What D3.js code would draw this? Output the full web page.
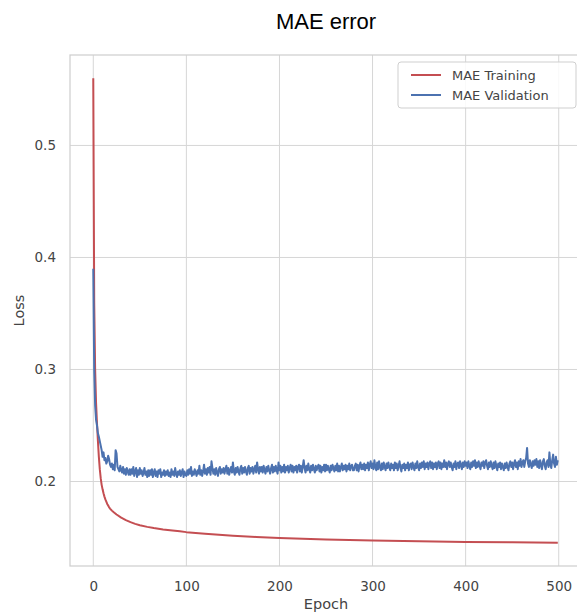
<!DOCTYPE html>
<html>
<head>
<meta charset="utf-8">
<script src="https://cdn.jsdelivr.net/npm/d3@7"></script>
<style>
  html, body { margin: 0; padding: 0; background: #fff; }
  svg { display: block; }
</style>
</head>
<body>
<svg id="chart" width="577" height="614"></svg>
<script>
// ---------------- data ----------------
const title = "MAE error";
const xLabel = "Epoch";
const yLabel = "Loss";
const seriesNames = ["MAE Training", "MAE Validation"];
const xTicks = [0, 100, 200, 300, 400, 500];
const yTicks = [0.2, 0.3, 0.4, 0.5];

// training loss (smooth curve) read at selected epochs
const trainEpochs = [0, 1, 2, 3, 4, 5, 6, 7, 8, 9, 10, 11, 12, 13, 14, 15, 16, 17, 18, 20, 22, 25, 30, 35, 40, 45, 50, 58, 65, 75, 85, 93, 100, 120, 150, 175, 200, 250, 300, 350, 400, 450, 499];
const trainLoss = [0.560, 0.360, 0.300, 0.270, 0.252, 0.236, 0.222, 0.211, 0.203, 0.197, 0.193, 0.1895, 0.1865, 0.184, 0.182, 0.180, 0.1785, 0.177, 0.1758, 0.1740, 0.1725, 0.1705, 0.1677, 0.1655, 0.1637, 0.1622, 0.161, 0.1595, 0.1584, 0.1572, 0.1562, 0.1555, 0.1548, 0.1533, 0.1516, 0.1505, 0.1496, 0.1483, 0.1473, 0.1466, 0.146, 0.1457, 0.1453];

// validation loss, one value per epoch 0..499
const valLoss = [
0.390,0.300,0.268,0.255,0.250,0.243,0.240,0.236,0.232,0.228,0.222,0.226,0.219,0.221,0.216,0.218,0.223,0.220,0.215,0.213,
0.216,0.211,0.215,0.210,0.228,0.225,0.213,0.211,0.209,0.214,0.210,0.208,0.213,0.207,0.211,0.206,0.212,0.209,0.206,0.211,
0.206,0.211,0.207,0.213,0.205,0.209,0.212,0.204,0.210,0.206,0.212,0.207,0.210,0.205,0.208,0.212,0.206,0.209,0.204,0.210,
0.205,0.210,0.206,0.211,0.204,0.208,0.211,0.205,0.209,0.204,0.210,0.207,0.211,0.204,0.208,0.206,0.210,0.205,0.209,0.206,
0.210,0.205,0.208,0.204,0.211,0.206,0.209,0.205,0.212,0.207,0.204,0.209,0.206,0.210,0.205,0.208,0.211,0.204,0.209,0.206,
0.205,0.210,0.206,0.211,0.207,0.213,0.205,0.209,0.206,0.211,0.208,0.205,0.210,0.207,0.214,0.206,0.210,0.205,0.209,0.215,
0.207,0.211,0.206,0.212,0.208,0.213,0.206,0.218,0.212,0.207,0.211,0.206,0.212,0.208,0.205,0.211,0.213,0.207,0.211,0.208,
0.212,0.207,0.211,0.214,0.207,0.212,0.206,0.210,0.213,0.208,0.217,0.209,0.206,0.212,0.208,0.213,0.209,0.206,0.212,0.214,
0.207,0.212,0.208,0.213,0.209,0.206,0.212,0.214,0.207,0.212,0.209,0.213,0.207,0.211,0.214,0.208,0.217,0.211,0.207,0.213,
0.209,0.213,0.208,0.214,0.210,0.207,0.213,0.209,0.214,0.210,0.207,0.212,0.215,0.208,0.213,0.209,0.214,0.210,0.207,0.217,
0.210,0.214,0.208,0.213,0.209,0.215,0.208,0.213,0.210,0.214,0.208,0.212,0.215,0.209,0.214,0.208,0.213,0.210,0.214,0.208,
0.213,0.215,0.209,0.214,0.208,0.213,0.219,0.212,0.208,0.214,0.210,0.216,0.211,0.208,0.214,0.210,0.215,0.211,0.208,0.214,
0.210,0.213,0.215,0.209,0.214,0.208,0.213,0.210,0.215,0.209,0.215,0.210,0.214,0.211,0.208,0.214,0.210,0.215,0.212,0.209,
0.214,0.210,0.216,0.209,0.214,0.209,0.213,0.216,0.210,0.214,0.211,0.215,0.209,0.214,0.211,0.216,0.210,0.214,0.215,0.210,
0.210,0.214,0.216,0.210,0.215,0.209,0.214,0.217,0.211,0.215,0.211,0.216,0.210,0.215,0.212,0.217,0.210,0.215,0.218,0.212,
0.216,0.211,0.219,0.213,0.210,0.217,0.211,0.218,0.213,0.210,0.216,0.211,0.217,0.213,0.210,0.216,0.212,0.217,0.213,0.210,
0.216,0.212,0.215,0.210,0.217,0.212,0.216,0.210,0.214,0.218,0.212,0.209,0.215,0.212,0.216,0.210,0.215,0.212,0.217,0.210,
0.215,0.216,0.211,0.217,0.213,0.210,0.216,0.212,0.218,0.213,0.210,0.216,0.212,0.217,0.213,0.218,0.211,0.216,0.213,0.217,
0.211,0.216,0.218,0.212,0.217,0.211,0.216,0.213,0.217,0.211,0.216,0.218,0.212,0.217,0.211,0.216,0.213,0.219,0.213,0.217,
0.211,0.216,0.218,0.213,0.217,0.213,0.210,0.216,0.213,0.218,0.211,0.216,0.217,0.212,0.218,0.215,0.211,0.217,0.213,0.218,
0.214,0.217,0.212,0.218,0.214,0.211,0.217,0.213,0.218,0.214,0.219,0.212,0.217,0.213,0.218,0.214,0.211,0.217,0.214,0.218,
0.212,0.217,0.219,0.214,0.211,0.217,0.213,0.218,0.214,0.211,0.217,0.212,0.218,0.214,0.210,0.216,0.213,0.217,0.211,0.216,
0.213,0.210,0.216,0.212,0.217,0.213,0.210,0.216,0.218,0.213,0.217,0.211,0.216,0.219,0.213,0.217,0.211,0.218,0.214,0.220,
0.213,0.217,0.219,0.213,0.218,0.221,0.230,0.216,0.213,0.219,0.215,0.212,0.218,0.214,0.219,0.215,0.220,0.213,0.218,0.212,
0.219,0.215,0.211,0.218,0.220,0.214,0.211,0.217,0.219,0.213,0.226,0.215,0.212,0.219,0.224,0.216,0.213,0.222,0.215,0.219
];

// ---------------- layout ----------------
const svg = d3.select("#chart");
const plot = { left: 70, right: 582, top: 55, bottom: 566 };

const x = d3.scaleLinear().domain([-25, 525]).range([plot.left, plot.right]);
const allVals = trainLoss.concat(valLoss);
const yMin = d3.min(allVals), yMax = d3.max(allVals);
const pad = (yMax - yMin) * 0.05;
const y = d3.scaleLinear().domain([yMin - pad, yMax + pad]).range([plot.bottom, plot.top]);

const colors = ["#c44e52", "#4c72b0"];
const textColor = "#444";

// clip
svg.append("defs").append("clipPath").attr("id", "clip")
  .append("rect").attr("x", plot.left).attr("y", plot.top)
  .attr("width", plot.right - plot.left).attr("height", plot.bottom - plot.top);

// grid
const grid = svg.append("g");
grid.selectAll("line.vx").data(xTicks).join("line")
  .attr("x1", d => x(d)).attr("x2", d => x(d))
  .attr("y1", plot.top).attr("y2", plot.bottom)
  .attr("stroke", "#d6d6d6").attr("stroke-width", 1);
grid.selectAll("line.hy").data(yTicks).join("line")
  .attr("y1", d => y(d)).attr("y2", d => y(d))
  .attr("x1", plot.left).attr("x2", plot.right)
  .attr("stroke", "#d6d6d6").attr("stroke-width", 1);

// axes (labels only, seaborn whitegrid style without tick marks)
const xAxis = d3.axisBottom(x).tickValues(xTicks).tickSize(0).tickPadding(15).tickFormat(d3.format("d"));
const gx = svg.append("g").attr("transform", `translate(0,${plot.bottom})`).call(xAxis);
gx.select(".domain").remove();
gx.selectAll("text").attr("fill", textColor).style("font-family", "DejaVu Sans").style("font-size", "13.5px");

const yAxis = d3.axisLeft(y).tickValues(yTicks).tickSize(0).tickPadding(14).tickFormat(d3.format(".1f"));
const gy = svg.append("g").attr("transform", `translate(${plot.left},0)`).call(yAxis);
gy.select(".domain").remove();
gy.selectAll("text").attr("fill", textColor).style("font-family", "DejaVu Sans").style("font-size", "13.5px");

// lines
const trainData = trainEpochs.map((e, i) => [e, trainLoss[i]]);
const valData = valLoss.map((v, i) => [i, v]);
const line = d3.line().x(d => x(d[0])).y(d => y(d[1]));
const lines = svg.append("g").attr("clip-path", "url(#clip)");
lines.append("path").datum(trainData).attr("d", line)
  .attr("fill", "none").attr("stroke", colors[0]).attr("stroke-width", 2).attr("stroke-linejoin", "round");
lines.append("path").datum(valData).attr("d", line)
  .attr("fill", "none").attr("stroke", colors[1]).attr("stroke-width", 2).attr("stroke-linejoin", "round");

// frame
svg.append("rect").attr("x", plot.left).attr("y", plot.top)
  .attr("width", plot.right - plot.left).attr("height", plot.bottom - plot.top)
  .attr("fill", "none").attr("stroke", "#cfcfcf").attr("stroke-width", 1.25);

// axis labels
svg.append("text").attr("x", x(250))
  .attr("y", 609).attr("text-anchor", "middle")
  .attr("fill", textColor).style("font-family", "DejaVu Sans").style("font-size", "14.5px")
  .text(xLabel);
svg.append("text").attr("transform", `translate(24,${(plot.top + plot.bottom) / 2}) rotate(-90)`)
  .attr("text-anchor", "middle")
  .attr("fill", textColor).style("font-family", "DejaVu Sans").style("font-size", "14.5px")
  .text(yLabel);

// title
svg.append("text").attr("x", (plot.left + plot.right) / 2).attr("y", 29)
  .attr("text-anchor", "middle").attr("fill", "#000")
  .style("font-family", "Liberation Sans, Arial, sans-serif").style("font-size", "22px")
  .text(title);

// legend
const lg = svg.append("g");
lg.append("rect").attr("x", 398).attr("y", 62).attr("width", 178).attr("height", 46)
  .attr("rx", 3).attr("fill", "rgba(255,255,255,0.85)").attr("stroke", "#cfcfcf").attr("stroke-width", 1);
seriesNames.forEach((name, i) => {
  const cy = 75 + i * 20;
  lg.append("line").attr("x1", 411).attr("x2", 441).attr("y1", cy).attr("y2", cy)
    .attr("stroke", colors[i]).attr("stroke-width", 2);
  lg.append("text").attr("x", 452).attr("y", cy).attr("dy", "0.35em")
    .attr("fill", textColor).style("font-family", "DejaVu Sans").style("font-size", "13px")
    .text(name);
});
</script>
</body>
</html>
